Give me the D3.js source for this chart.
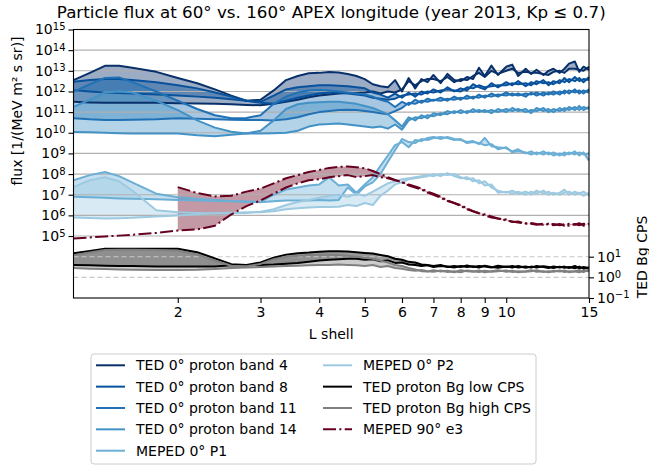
<!DOCTYPE html>
<html>
<head>
<meta charset="utf-8">
<script src="https://cdn.jsdelivr.net/npm/d3@7"></script>
<style>
  body { margin: 0; background: #fff; }
  text { font-family: "DejaVu Sans", sans-serif; fill: #000; }
</style>
</head>
<body>
<svg id="chart"></svg>
<script>
// L shell grid shared by every series
const lShell = [1.2, 1.3, 1.4, 1.5, 1.6, 1.8, 2.0, 2.2, 2.4, 2.6, 2.8, 3.0, 3.2, 3.4, 3.6, 3.8, 4.0, 4.2, 4.4, 4.6, 4.8, 5.0,
  5.2, 5.4, 5.6, 5.8, 6.0, 6.2, 6.4, 6.6, 6.8, 7.0, 7.25, 7.5, 7.75, 8.0, 8.25, 8.5, 8.75, 9.0,
  9.3, 9.6, 10, 10.3, 10.6, 11, 11.3, 11.6, 12, 12.3, 12.6, 13, 13.3, 13.6, 14, 14.3, 14.6, 15];

// all series below are log10 of the value (60° / 160° pair)
const band4A = [12.55, 12.9, 13.24, 13.24, 13.15, 12.95, 12.65, 12.4, 12.1, 11.8, 11.55, 11.6, 12.05, 12.55, 12.75, 12.88, 12.9, 12.94, 12.92, 12.85, 12.75, 12.6,
  12.35, 12.25, 12.2, 12.55, 12.0, 12.65, 12.15, 12.6, 12.45, 12.8, 12.4, 12.85, 12.55, 12.5, 12.7, 12.6, 13.15, 12.75,
  13.25, 12.8, 13.2, 13.3, 12.75, 13.1, 12.85, 13.05, 12.8, 13.0, 13.1, 12.9, 13.1, 13.35, 13.45, 12.95, 13.2, 13.05];
const band4B = [11.5, 11.47, 11.45, 11.45, 11.45, 11.45, 11.43, 11.42, 11.4, 11.38, 11.35, 11.33, 11.4, 11.5, 11.6, 11.72, 11.8, 11.85, 11.9, 11.92, 11.93, 11.95,
  12.0, 11.9, 12.0, 11.95, 12.1, 12.5, 12.3, 12.5, 12.6, 12.6, 12.5, 12.7, 12.45, 12.6, 12.55, 12.75, 12.9, 12.7,
  13.0, 12.85, 13.0, 13.1, 12.9, 12.95, 12.9, 12.9, 12.85, 12.8, 12.95, 13.0, 12.9, 13.1, 13.1, 13.05, 13.0, 13.2];

const band8A = [12.47, 12.55, 12.6, 12.6, 12.55, 12.45, 12.3, 12.15, 11.95, 11.75, 11.55, 11.5, 11.8, 12.1, 12.2, 12.25, 12.3, 12.3, 12.28, 12.25, 12.2, 12.15,
  11.95, 11.85, 11.7, 11.9, 11.7, 11.95, 11.75, 12.0, 11.9, 12.1, 11.95, 12.2, 12.0, 12.15, 12.05, 12.35, 12.2, 12.1,
  12.4, 12.2, 12.45, 12.3, 12.5, 12.25, 12.45, 12.35, 12.55, 12.3, 12.5, 12.4, 12.65, 12.45, 12.7, 12.5, 12.6, 12.55];
const band8B = [12.06, 12.0, 11.95, 11.92, 11.9, 11.85, 11.8, 11.75, 11.7, 11.62, 11.55, 11.45, 11.4, 11.55, 11.7, 11.8, 11.9, 11.95, 11.95, 11.9, 11.85, 11.8,
  11.7, 11.65, 11.6, 11.65, 11.8, 11.85, 11.9, 11.85, 12.0, 11.95, 12.05, 12.1, 12.05, 12.0, 12.2, 12.15, 12.3, 12.2,
  12.25, 12.3, 12.3, 12.4, 12.35, 12.4, 12.3, 12.5, 12.4, 12.45, 12.35, 12.55, 12.45, 12.6, 12.5, 12.65, 12.45, 12.7];

const band11A = [11.98, 12.35, 12.65, 12.68, 12.45, 12.0, 11.55, 11.15, 10.85, 10.7, 10.72, 10.85, 11.4, 11.75, 11.95, 12.05, 12.07, 12.05, 12.0, 11.95, 11.9, 11.85,
  11.75, 11.6, 11.5, 11.25, 11.5, 11.35, 11.6, 11.45, 11.65, 11.55, 11.7, 11.55, 11.75, 11.6, 11.8, 11.65, 11.85, 11.7,
  11.9, 11.75, 11.95, 11.8, 11.9, 11.75, 11.95, 11.8, 11.95, 11.85, 12.0, 11.85, 12.05, 11.9, 12.1, 11.9, 12.05, 11.95];
const band11B = [10.7, 10.65, 10.62, 10.62, 10.63, 10.65, 10.7, 10.68, 10.65, 10.63, 10.62, 10.62, 10.6, 10.65, 10.75, 10.9, 11.0, 11.05, 11.1, 11.12, 11.1, 11.05,
  11.0, 10.95, 10.9, 11.05, 11.2, 11.45, 11.4, 11.55, 11.5, 11.6, 11.55, 11.65, 11.6, 11.7, 11.65, 11.75, 11.7, 11.8,
  11.75, 11.85, 11.8, 11.9, 11.8, 11.9, 11.85, 11.95, 11.8, 11.95, 11.85, 12.0, 11.9, 12.05, 11.95, 12.05, 11.9, 12.1];

const band14A = [11.25, 11.6, 11.95, 12.0, 11.95, 11.55, 11.1, 10.6, 10.25, 10.05, 9.96, 10.1, 10.6, 11.15, 11.38, 11.45, 11.48, 11.5, 11.5, 11.45, 11.4, 11.3,
  11.2, 11.05, 10.9, 10.6, 10.3, 10.75, 10.6, 10.85, 10.7, 10.95, 10.85, 11.05, 10.95, 11.1, 10.95, 11.15, 11.0, 11.1,
  10.95, 11.15, 11.0, 11.2, 11.05, 11.15, 10.95, 11.2, 11.05, 11.15, 11.0, 11.2, 11.05, 11.25, 11.1, 11.3, 11.1, 11.25];
const band14B = [10.04, 10.03, 10.0, 9.98, 9.97, 9.97, 9.96, 9.88, 9.83, 9.9, 9.96, 9.97, 9.98, 10.0, 10.1, 10.3, 10.4, 10.42, 10.45, 10.4, 10.35, 10.3,
  10.25, 10.3, 10.2, 10.4, 10.15, 10.6, 10.75, 10.7, 10.85, 10.8, 10.95, 10.9, 11.05, 10.95, 11.05, 11.0, 11.1, 11.0,
  11.1, 11.0, 11.15, 11.05, 11.15, 11.0, 11.1, 11.05, 11.2, 11.0, 11.15, 11.05, 11.2, 11.1, 11.25, 11.1, 11.25, 11.15];

const p1A = [7.7, 7.95, 8.1, 7.9, 7.6, 7.05, 6.88, 6.8, 6.75, 6.7, 6.67, 6.65, 7.0, 7.25, 7.35, 7.45, 7.5, 7.85, 7.45, 7.5, 7.1, 7.5,
  7.85, 8.4, 8.9, 9.4, 9.55, 9.3, 9.65, 9.6, 9.75, 9.8, 9.7, 9.8, 9.7, 9.65, 9.55, 9.6, 9.45, 9.75,
  9.35, 9.3, 9.25, 9.1, 9.2, 9.0, 9.1, 8.95, 9.1, 8.95, 9.05, 8.9, 9.05, 8.95, 9.1, 8.9, 9.05, 8.65];
const p1B = [6.9, 6.88, 6.85, 6.82, 6.8, 6.78, 6.75, 6.72, 6.7, 6.68, 6.66, 6.64, 6.68, 6.72, 6.72, 6.72, 6.74, 6.72, 6.75, 7.35, 7.0, 7.4,
  7.6, 8.0, 8.6, 9.15, 9.7, 9.55, 9.5, 9.7, 9.65, 9.75, 9.8, 9.75, 9.65, 9.7, 9.5, 9.55, 9.5, 9.4,
  9.45, 9.2, 9.3, 9.05, 9.1, 9.05, 8.95, 9.05, 8.95, 9.05, 8.9, 9.0, 8.9, 9.05, 8.95, 9.05, 8.95, 9.0];

const p2A = [7.37, 7.7, 7.85, 7.65, 7.2, 6.25, 6.15, 6.12, 6.1, 6.1, 6.12, 6.18, 6.3, 6.5, 6.65, 6.75, 6.85, 6.95, 7.0, 6.9, 7.05, 6.95,
  7.15, 7.35, 7.55, 7.65, 7.75, 7.8, 7.85, 7.9, 7.95, 7.9, 8.0, 7.95, 8.0, 7.85, 7.75, 7.8, 7.55, 7.65,
  7.35, 7.2, 7.1, 7.2, 7.05, 7.15, 7.0, 7.2, 7.05, 7.15, 7.0, 7.1, 7.25, 7.0, 7.15, 7.05, 7.15, 6.95];
const p2B = [5.9, 5.87, 5.85, 5.86, 5.88, 5.95, 6.0, 6.05, 6.1, 6.13, 6.15, 6.15, 6.2, 6.3, 6.35, 6.38, 6.4, 6.4, 6.42, 6.5, 6.45, 6.6,
  6.5, 6.95, 7.2, 7.5, 7.6, 7.75, 7.8, 7.85, 7.9, 8.0, 7.9, 8.05, 7.9, 7.8, 7.85, 7.65, 7.7, 7.45,
  7.5, 7.1, 7.15, 7.05, 7.15, 7.0, 7.15, 7.05, 7.2, 7.0, 7.1, 7.0, 7.1, 7.15, 7.0, 7.1, 6.95, 7.1];

const e3A = [null, null, null, null, null, null, 7.37, 7.08, 6.92, 6.95, 7.15, 7.3, 7.55, 7.8, 7.95, 8.1, 8.2, 8.3, 8.35, 8.37, 8.33, 8.28,
  8.15, 8.0, 7.85, 7.72, 7.6, 7.5, 7.4, 7.3, 7.15, 7.05, 6.9, 6.72, 6.6, 6.5, 6.35, 6.2, 6.1, 6.05,
  5.95, 5.85, 5.8, 5.68, 5.7, 5.6, 5.63, 5.58, 5.55, 5.6, 5.52, 5.58, 5.5, 5.6, 5.55, 5.62, 5.5, 5.6];
const e3B = [4.88, 4.93, 4.98, 5.02, 5.06, 5.15, 5.27, 5.32, 5.5, 6.05, 6.45, 6.72, 7.05, 7.35, 7.55, 7.7, 7.75, 7.85, 7.9, 7.95, 7.85, 7.9,
  7.95, 7.85, 7.8, 7.7, 7.6, 7.45, 7.35, 7.25, 7.1, 7.0, 6.85, 6.7, 6.6, 6.45, 6.3, 6.2, 6.1, 6.0,
  5.9, 5.85, 5.75, 5.7, 5.65, 5.62, 5.6, 5.55, 5.6, 5.55, 5.58, 5.52, 5.57, 5.5, 5.58, 5.52, 5.6, 5.55];

// background counts, right axis
const bgLowA = [1.17, 1.28, 1.38, 1.39, 1.39, 1.39, 1.38, 1.22, 0.92, 0.64, 0.6, 0.72, 0.95, 1.1, 1.17, 1.2, 1.24, 1.26, 1.26, 1.25, 1.22, 1.18,
  1.15, 1.08, 1.02, 0.9, 0.85, 0.75, 0.72, 0.62, 0.6, 0.55, 0.6, 0.5, 0.55, 0.5, 0.58, 0.5, 0.55, 0.52,
  0.48, 0.56, 0.5, 0.55, 0.48, 0.53, 0.47, 0.55, 0.5, 0.45, 0.53, 0.48, 0.52, 0.45, 0.55, 0.43, 0.5, 0.45];
const bgLowB = [0.6, 0.58, 0.56, 0.55, 0.55, 0.53, 0.52, 0.52, 0.52, 0.58, 0.6, 0.6, 0.62, 0.66, 0.7, 0.76, 0.82, 0.85, 0.88, 0.9, 0.9, 0.85,
  0.88, 0.78, 0.82, 0.7, 0.72, 0.62, 0.6, 0.55, 0.58, 0.5, 0.55, 0.52, 0.48, 0.55, 0.5, 0.54, 0.47, 0.56,
  0.5, 0.47, 0.53, 0.48, 0.55, 0.46, 0.52, 0.48, 0.54, 0.5, 0.45, 0.52, 0.46, 0.5, 0.44, 0.52, 0.42, 0.48];
const bgHighA = [1.07, 1.2, 1.32, 1.34, 1.34, 1.33, 1.3, 1.1, 0.8, 0.56, 0.54, 0.65, 0.88, 1.0, 1.05, 1.08, 1.1, 1.1, 1.08, 1.05, 1.0, 0.95,
  0.9, 0.8, 0.72, 0.6, 0.55, 0.45, 0.38, 0.3, 0.28, 0.35, 0.28, 0.32, 0.25, 0.35, 0.3, 0.27, 0.33, 0.25,
  0.3, 0.35, 0.27, 0.32, 0.25, 0.3, 0.35, 0.27, 0.3, 0.24, 0.32, 0.28, 0.33, 0.25, 0.3, 0.35, 0.26, 0.38];
const bgHighB = [0.45, 0.42, 0.4, 0.38, 0.37, 0.36, 0.36, 0.37, 0.4, 0.45, 0.48, 0.5, 0.52, 0.55, 0.56, 0.58, 0.6, 0.6, 0.62, 0.6, 0.58, 0.55,
  0.6, 0.5, 0.55, 0.45, 0.42, 0.35, 0.32, 0.36, 0.3, 0.27, 0.33, 0.26, 0.3, 0.25, 0.33, 0.3, 0.26, 0.32,
  0.27, 0.3, 0.33, 0.26, 0.3, 0.27, 0.3, 0.34, 0.26, 0.3, 0.27, 0.33, 0.26, 0.3, 0.28, 0.25, 0.32, 0.3];

const xTicks = [2, 3, 4, 5, 6, 7, 8, 9, 10, 15];
const leftTickExp = [5, 6, 7, 8, 9, 10, 11, 12, 13, 14, 15];
const rightTickExp = [-1, 0, 1];

const series = [
  { name: "TED 0° proton band 4", color: "#08306b", a: band4A, b: band4B, side: "left" },
  { name: "TED 0° proton band 8", color: "#08519c", a: band8A, b: band8B, side: "left" },
  { name: "TED 0° proton band 11", color: "#2171b5", a: band11A, b: band11B, side: "left" },
  { name: "TED 0° proton band 14", color: "#4292c6", a: band14A, b: band14B, side: "left" },
  { name: "MEPED 0° P1", color: "#6baed6", a: p1A, b: p1B, side: "left" },
  { name: "MEPED 0° P2", color: "#9ecae1", a: p2A, b: p2B, side: "left" },
  { name: "TED proton Bg low CPS", color: "#000000", a: bgLowA, b: bgLowB, side: "right" },
  { name: "TED proton Bg high CPS", color: "#808080", a: bgHighA, b: bgHighB, side: "right" },
  { name: "MEPED 90° e3", color: "#67001f", a: e3A, b: e3B, side: "left", dash: "13,3.3,2.1,3.3" }
];

const width = 649, height = 466;
const margin = { left: 73.5, right: 589, top: 29.5, bottom: 298 };

const svg = d3.select("#chart").attr("width", width).attr("height", height);
svg.append("rect").attr("width", width).attr("height", height).attr("fill", "#fff");

const x = d3.scaleLog().domain([1.2, 15]).range([margin.left, margin.right]);
const yLeft = d3.scaleLog().domain([1e2, 1e15]).range([margin.bottom, margin.top]);
const yRight = d3.scaleLog().domain([1e-1, 1e12]).range([margin.bottom, margin.top]);

const plot = svg.append("g");
const defined = (s, i) => s.a[i] != null && s.b[i] != null;

function yOf(s) { return s.side === "left" ? yLeft : yRight; }

// fills between the 60° and 160° curves
function drawFills(list) {
  list.forEach(s => {
    const y = yOf(s);
    const area = d3.area()
      .defined((d, i) => defined(s, i))
      .x(d => x(d))
      .y0((d, i) => y(Math.pow(10, s.a[i])))
      .y1((d, i) => y(Math.pow(10, s.b[i])));
    plot.append("path")
      .attr("d", area(lShell))
      .attr("fill", s.color)
      .attr("fill-opacity", 0.4)
      .attr("stroke", "none");
  });
}

function drawLines(list) {
  list.forEach(s => {
    const y = yOf(s);
    [s.a, s.b].forEach(vals => {
      const line = d3.line()
        .defined((d, i) => vals[i] != null)
        .x(d => x(d))
        .y((d, i) => y(Math.pow(10, vals[i])));
      plot.append("path")
        .attr("d", line(lShell))
        .attr("fill", "none")
        .attr("stroke", s.color)
        .attr("stroke-width", 2)
        .attr("stroke-linejoin", "round")
        .attr("stroke-dasharray", s.dash || null);
    });
  });
}

const leftSeries = series.filter(s => s.side === "left");
const rightSeries = series.filter(s => s.side === "right");

drawFills(leftSeries);

// solid grid for the flux axis
plot.selectAll(".gridL")
  .data(leftTickExp.filter(e => e < 15))
  .enter().append("line")
  .attr("x1", margin.left).attr("x2", margin.right)
  .attr("y1", e => yLeft(Math.pow(10, e))).attr("y2", e => yLeft(Math.pow(10, e)))
  .attr("stroke", "#b0b0b0").attr("stroke-width", 1.1);

drawLines(leftSeries);

drawFills(rightSeries);

// dashed grid for the CPS axis
plot.selectAll(".gridR")
  .data([0, 1])
  .enter().append("line")
  .attr("x1", margin.left).attr("x2", margin.right)
  .attr("y1", e => yRight(Math.pow(10, e))).attr("y2", e => yRight(Math.pow(10, e)))
  .attr("stroke", "#c8c8c8").attr("stroke-width", 1.1)
  .attr("stroke-dasharray", "5,3");

drawLines(rightSeries);

// frame
svg.append("rect")
  .attr("x", margin.left).attr("y", margin.top)
  .attr("width", margin.right - margin.left).attr("height", margin.bottom - margin.top)
  .attr("fill", "none").attr("stroke", "#000").attr("stroke-width", 1.1);

function powerLabel(sel, exp) {
  sel.text(null);
  sel.append("tspan").text("10");
  sel.append("tspan").attr("dy", "-0.45em").attr("font-size", "10px")
    .text(exp < 0 ? "\u2212" + (-exp) : exp);
}

// left axis
const gLeft = svg.append("g").attr("transform", `translate(${margin.left},0)`)
  .call(d3.axisLeft(yLeft).tickValues(leftTickExp.map(e => Math.pow(10, e)))
    .tickSize(5).tickPadding(3).tickSizeOuter(0));
gLeft.select(".domain").remove();
gLeft.selectAll(".tick text").attr("font-size", "14px")
  .each(function (d) { powerLabel(d3.select(this), Math.round(Math.log10(d))); });

// right axis
const gRight = svg.append("g").attr("transform", `translate(${margin.right},0)`)
  .call(d3.axisRight(yRight).tickValues(rightTickExp.map(e => Math.pow(10, e)))
    .tickSize(5).tickPadding(3).tickSizeOuter(0));
gRight.select(".domain").remove();
gRight.selectAll(".tick text").attr("font-size", "14px")
  .each(function (d) { powerLabel(d3.select(this), Math.round(Math.log10(d))); });

// bottom axis
const gBottom = svg.append("g").attr("transform", `translate(0,${margin.bottom})`)
  .call(d3.axisBottom(x).tickValues(xTicks).tickFormat(d3.format("d"))
    .tickSize(5).tickPadding(4).tickSizeOuter(0));
gBottom.select(".domain").remove();
gBottom.selectAll(".tick text").attr("font-size", "14px");
svg.selectAll(".tick line").attr("stroke", "#000").attr("stroke-width", 1.1);

// titles
svg.append("text")
  .attr("x", (margin.left + margin.right) / 2).attr("y", 18)
  .attr("text-anchor", "middle").attr("font-size", "16.7px")
  .text("Particle flux at 60° vs. 160° APEX longitude (year 2013, Kp \u2264 0.7)");

svg.append("text")
  .attr("x", (margin.left + margin.right) / 2).attr("y", 339)
  .attr("text-anchor", "middle").attr("font-size", "14px")
  .text("L shell");

svg.append("text")
  .attr("transform", "translate(22,111) rotate(-90)")
  .attr("text-anchor", "middle").attr("font-size", "14px")
  .text("flux [1/(MeV m\u00b2 s sr)]");

svg.append("text")
  .attr("transform", "translate(647,257) rotate(-90)")
  .attr("text-anchor", "middle").attr("font-size", "14px")
  .text("TED Bg CPS");

// legend
const legend = svg.append("g");
legend.append("rect")
  .attr("x", 91).attr("y", 354).attr("width", 445).attr("height", 110)
  .attr("rx", 3).attr("fill", "#fff").attr("fill-opacity", 0.8)
  .attr("stroke", "#cccccc").attr("stroke-width", 1);

series.forEach((s, i) => {
  const col = i < 5 ? 0 : 1;
  const row = i < 5 ? i : i - 5;
  const lx = col === 0 ? 96 : 323;
  const ly = 365.3 + row * 21.35;
  legend.append("line")
    .attr("x1", lx).attr("x2", lx + 29).attr("y1", ly).attr("y2", ly)
    .attr("stroke", s.color).attr("stroke-width", 2)
    .attr("stroke-dasharray", s.dash || null);
  legend.append("text")
    .attr("x", lx + 40).attr("y", ly + 5)
    .attr("font-size", "14px")
    .text(s.name);
});
</script>
</body>
</html>
